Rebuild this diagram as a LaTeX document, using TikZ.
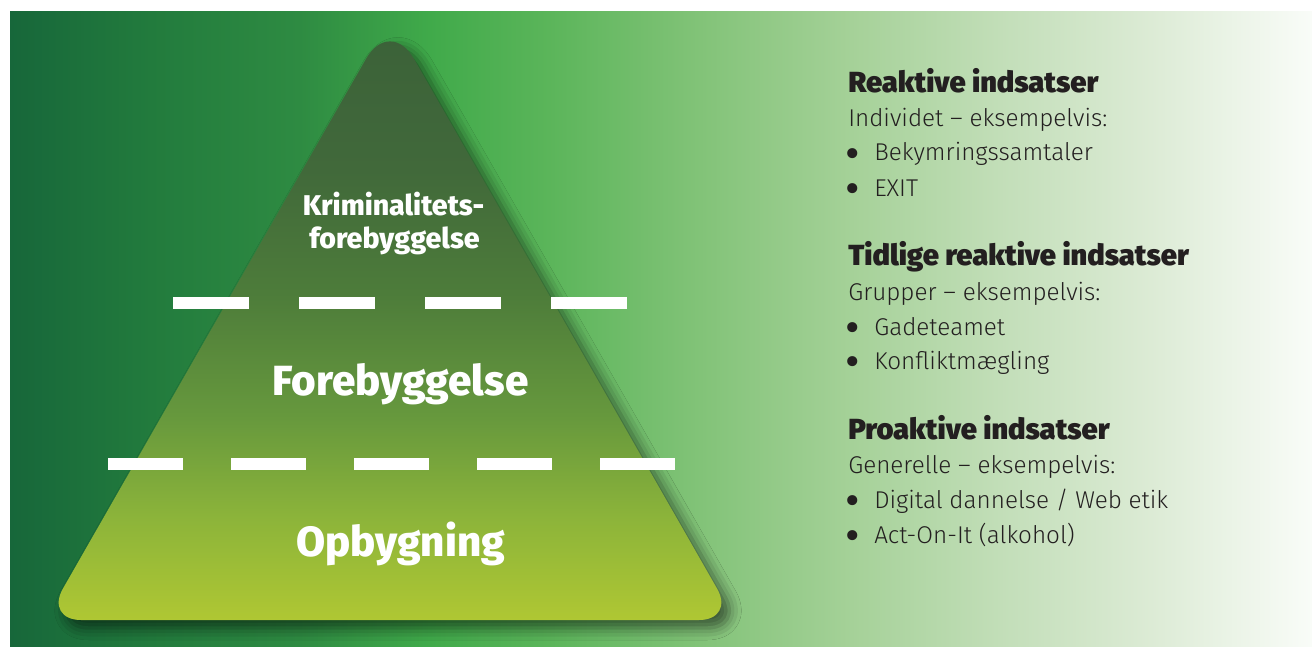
\documentclass[tikz,border=0pt]{standalone}
\usepackage{fontspec}
\IfFontExistsTF{Fira Sans Book}
  {\setmainfont{Fira Sans Book}}
  {\IfFontExistsTF{Fira Sans Light}
     {\setmainfont{Fira Sans Light}}
     {\setmainfont{Fira Sans}}}
\IfFontExistsTF{Fira Sans Black}
  {\newfontfamily\headfont{Fira Sans Black}}
  {\IfFontExistsTF{Fira Sans ExtraBold}
     {\newfontfamily\headfont{Fira Sans ExtraBold}}
     {\newfontfamily\headfont{Fira Sans Bold}[FakeBold=1.6]}}
\IfFontExistsTF{Fira Sans ExtraBold}
  {\newfontfamily\pyrfont{Fira Sans ExtraBold}}
  {\newfontfamily\pyrfont{Fira Sans Bold}}
\newfontfamily\bulfont{DejaVu Sans}
\usetikzlibrary{shadows.blur}
\definecolor{bgA}{HTML}{17673A}
\definecolor{bgB}{HTML}{227B3D}
\definecolor{bgC}{HTML}{2E8B42}
\definecolor{bgD}{HTML}{40AA4A}
\definecolor{bgE}{HTML}{5BB55A}
\definecolor{bgF}{HTML}{82C378}
\definecolor{bgG}{HTML}{A5D198}
\definecolor{bgH}{HTML}{C2DEB8}
\definecolor{bgI}{HTML}{DCEBD5}
\definecolor{bgJ}{HTML}{F9FCF8}
\definecolor{pyA}{HTML}{AFC733}
\definecolor{pyB}{HTML}{8CB43A}
\definecolor{pyC}{HTML}{66983D}
\definecolor{pyD}{HTML}{4D7C3A}
\definecolor{pyE}{HTML}{41693A}
\definecolor{pyF}{HTML}{3B6139}
\definecolor{ink}{HTML}{231F20}
\pgfdeclarehorizontalshading{bgshade}{100bp}{color(0bp)=(bgA); color(25bp)=(bgA); color(30.4bp)=(bgB); color(36.1bp)=(bgC); color(41.1bp)=(bgD); color(45.7bp)=(bgE); color(51.5bp)=(bgF); color(57.3bp)=(bgG); color(63bp)=(bgH); color(68.8bp)=(bgI); color(75bp)=(bgJ); color(100bp)=(bgJ)}
\pgfdeclareverticalshading{pyrshade}{100bp}{color(0bp)=(pyA); color(25bp)=(pyA); color(33.5bp)=(pyB); color(42bp)=(pyC); color(52.1bp)=(pyD); color(62.3bp)=(pyE); color(75bp)=(pyF); color(100bp)=(pyF)}
\begin{document}
\begin{tikzpicture}[x=0.75pt,y=-0.75pt,
  head/.style={anchor=base west, inner sep=0, text=ink, font=\headfont\fontsize{21.8}{26}\selectfont},
  body/.style={anchor=base west, inner sep=0, text=ink, font=\fontsize{18.2}{22}\selectfont},
  bul/.style={anchor=base, inner sep=0, text=ink, font=\bulfont\fontsize{26}{28}\selectfont},
  pyrsmall/.style={anchor=base, inner sep=0, text=white, font=\pyrfont\fontsize{21.4}{24}\selectfont},
  pyrbig/.style={anchor=base, inner sep=0, text=white, font=\pyrfont\fontsize{31.6}{36}\selectfont},
  dashline/.style={draw=white, line width=9pt}
]
\useasboundingbox (0,0) rectangle (1312,646);
\shade[shading=bgshade] (10,11) rectangle (1312,646);
% pyramid
\path[shading=pyrshade, blur shadow={shadow xshift=6pt, shadow yshift=-6pt, shadow blur radius=9pt, shadow opacity=55}]
  (390,620) [rounded corners=27pt] -- (735,620) [rounded corners=36pt] -- (390,17) [rounded corners=27pt] -- (45,620) [sharp corners] -- cycle;
% dashed separators
\draw[dashline, dash pattern=on 57pt off 37.5pt] (173.3,303.3) -- (627.7,303.3);
\draw[dashline, dash pattern=on 56.25pt off 36pt] (108,464) -- (675,464);
% pyramid labels
\node[pyrsmall] (krim1) at (393.5,215) {Kriminalitets-};
\node[pyrsmall] (krim2) at (394.5,248) {forebyggelse};
\node[pyrbig] (fore) at (400.5,395) {Forebyggelse};
\node[pyrbig] (opb) at (400.5,556) {Opbygning};
% right text
\node[head] (h1) at (848,92.7) {Reaktive indsatser};
\node[body] (t1) at (848,126.7) {Individet – eksempelvis:};
\node[bul] (b1) at (852.5,166) {•};
\node[body] (t2) at (874,160.7) {Bekymringssamtaler};
\node[bul] (b2) at (852.5,201.3) {•};
\node[body] (t3) at (874,196) {EXIT};
\node[head] (h2) at (848,265) {Tidlige reaktive indsatser};
\node[body] (t4) at (848,300) {Grupper – eksempelvis:};
\node[bul] (b3) at (852.5,340.3) {•};
\node[body] (t5) at (874,335) {Gadeteamet};
\node[bul] (b4) at (852.5,374.6) {•};
\node[body] (t6) at (874,369.3) {Konfliktmægling};
\node[head] (h3) at (848,439.3) {Proaktive indsatser};
\node[body] (t7) at (848,473.3) {Generelle – eksempelvis:};
\node[bul] (b5) at (852.5,513.6) {•};
\node[body] (t8) at (874,508.3) {Digital dannelse / Web etik};
\node[bul] (b6) at (852.5,548.6) {•};
\node[body] (t9) at (874,543.3) {Act-On-It (alkohol)};
\end{tikzpicture}
\end{document}
